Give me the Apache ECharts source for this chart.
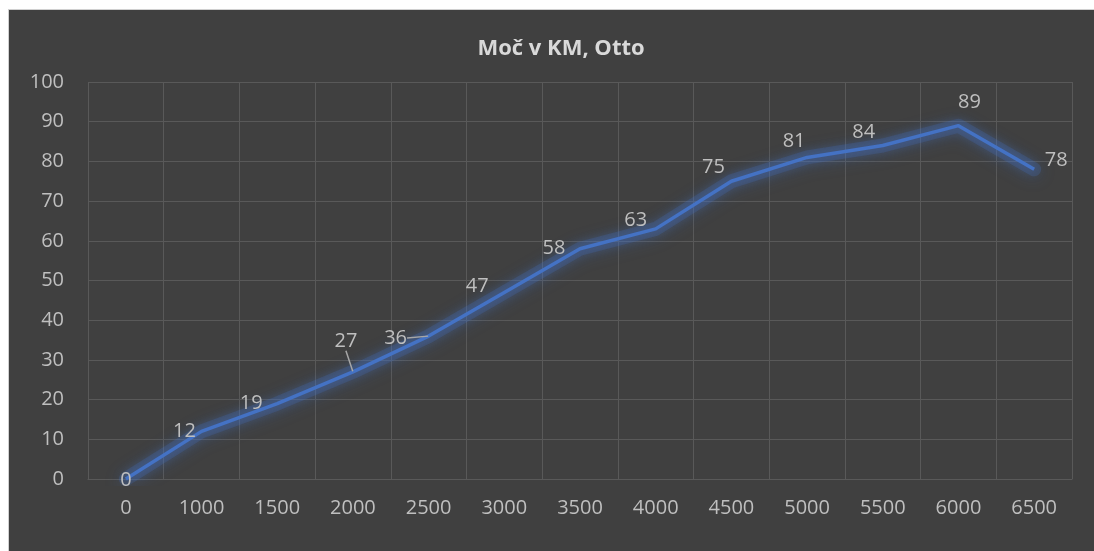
<!DOCTYPE html>
<html>
<head>
<meta charset="utf-8">
<script src="https://cdn.jsdelivr.net/npm/echarts@6/dist/echarts.min.js"></script>
<style>
  html, body { margin: 0; padding: 0; background: #ffffff; }
  #frame {
    position: absolute; left: 8px; top: 9px; right: 0; bottom: 0;
    background: #404040; border-left: 1px solid #d0d0d0; border-top: 1px solid #d0d0d0;
  }
  #chart { position: absolute; left: 0; top: 0; width: 1094px; height: 551px; }
</style>
</head>
<body>
<div id="frame"></div>
<div id="chart"></div>
<script>
// Engine speed (rpm) and power in KM
const rpm = ['0', '1000', '1500', '2000', '2500', '3000', '3500', '4000', '4500', '5000', '5500', '6000', '6500'];
const power = [0, 12, 19, 27, 36, 47, 58, 63, 75, 81, 84, 89, 78];

// where each value label sits relative to its point (px)
const labelShift = [
  [0, 1], [-17, 0], [-26, 0], [-7, -31], [-33, 2], [-27, -6], [-26, 0],
  [-20, -9], [-18, -14], [-13, -16], [-19, -13], [11, -23], [22, -9]
];
// labels drawn with a leader line back to their point
const leaderLabels = [3, 4];

const FONT = '"Open Sans", "Noto Sans", sans-serif';
const TEXT = '#bfbfbf';
const GRID = '#595959';
const BLUE = '#4472c4';

const chart = echarts.init(document.getElementById('chart'), null, { renderer: 'canvas' });

const seriesData = power.map((v, i) => ({
  value: v,
  labelLine: { show: leaderLabels.indexOf(i) >= 0 }
}));

chart.setOption({
  backgroundColor: 'transparent',
  animation: false,
  title: {
    text: 'Moč v KM, Otto',
    left: 556, top: 33, textAlign: 'center',
    textStyle: { color: '#d9d9d9', fontFamily: FONT, fontWeight: 'bold', fontSize: 22 }
  },
  grid: { left: 88, right: 22, top: 82, bottom: 72, containLabel: false },
  xAxis: {
    type: 'category',
    data: rpm,
    boundaryGap: true,
    axisLine: { show: true, lineStyle: { color: GRID, width: 1 } },
    axisTick: { show: false },
    splitLine: { show: true, lineStyle: { color: GRID, width: 1 } },
    axisLabel: { color: TEXT, fontFamily: FONT, fontSize: 20, margin: 19 }
  },
  yAxis: {
    type: 'value',
    min: 0, max: 100, interval: 10,
    axisLine: { show: false },
    axisTick: { show: false },
    splitLine: { show: true, lineStyle: { color: GRID, width: 1 } },
    axisLabel: { color: TEXT, fontFamily: FONT, fontSize: 20, margin: 24 }
  },
  series: [
    {
      // soft glow under the line
      type: 'line',
      data: power,
      silent: true,
      symbol: 'none',
      lineStyle: {
        color: 'rgba(68,114,196,0.22)', width: 14, join: 'round', cap: 'round',
        shadowColor: 'rgba(68,114,196,1)', shadowBlur: 16, shadowOffsetY: 2
      },
      z: 1
    },
    {
      type: 'line',
      data: seriesData,
      symbol: 'circle',
      symbolSize: 1,
      showSymbol: true,
      lineStyle: {
        color: BLUE, width: 3.5, join: 'round',
        shadowColor: 'rgba(68,114,196,0.9)', shadowBlur: 12
      },
      itemStyle: { color: 'rgba(0,0,0,0)' },
      label: {
        show: true,
        position: 'inside',
        color: TEXT,
        fontFamily: FONT,
        fontSize: 20
      },
      labelLine: { show: false, lineStyle: { color: '#a6a6a6', width: 1.5 }, smooth: false },
      labelLayout: function (p) {
        const s = labelShift[p.dataIndex];
        return { dx: s[0], dy: s[1] };
      },
      z: 2
    }
  ]
});
</script>
</body>
</html>
